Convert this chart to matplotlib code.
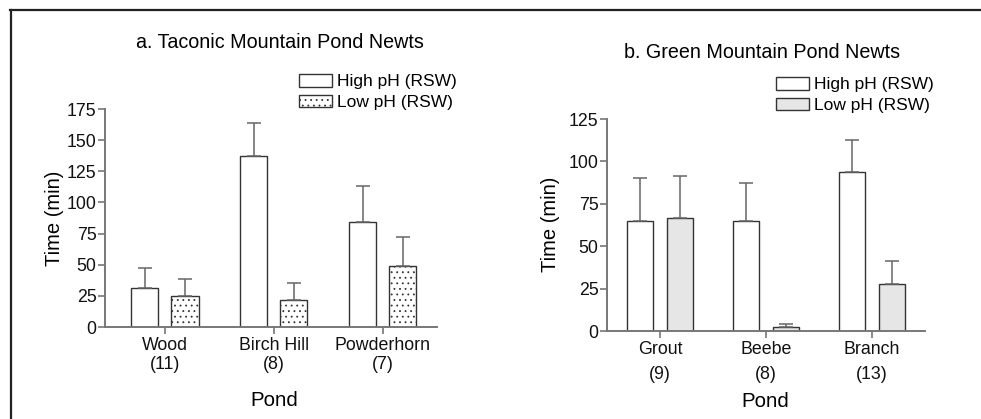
import numpy as np
import matplotlib
matplotlib.use('Agg')
from matplotlib import pyplot as plt
from matplotlib.lines import Line2D

plt.rcParams['font.family'] = ['Liberation Sans', 'DejaVu Sans']
plt.rcParams['hatch.linewidth'] = 0.6

# Data
ponds_a = ['Wood\n(11)', 'Birch Hill\n(8)', 'Powderhorn\n(7)']
high_a = [31, 137, 84]
high_a_se = [16, 27, 29]
low_a = [25, 22, 49]
low_a_se = [13.5, 13.5, 23.5]

ponds_b = ['Grout\n(9)', 'Beebe\n(8)', 'Branch\n(13)']
high_b = [65, 65, 94]
high_b_se = [25, 22.5, 18.5]
low_b = [66.5, 2.5, 28]
low_b_se = [25, 1.8, 13.5]

legend_labels = ['High pH (RSW)', 'Low pH (RSW)']

W, H = 981, 419
fig = plt.figure(figsize=(W / 100, H / 100), dpi=100)

# frame lines (top and left only)
fig.add_artist(Line2D([10 / W, 1], [1 - 10.5 / H, 1 - 10.5 / H], transform=fig.transFigure,
                      color='#222222', lw=1.6))
fig.add_artist(Line2D([10.5 / W, 10.5 / W], [0, 1 - 10.5 / H], transform=fig.transFigure,
                      color='#222222', lw=1.6))

axis_col = '#777777'
edge_col = '#333333'
err_col = '#666666'


def panel(rect, ponds, high, high_se, low, low_se, ymax, low_style, title, title_xy,
          leg_xy, ylab_xy, xlab_xy, linesp, width, off, xlim):
    ax = fig.add_axes(rect)
    x = np.arange(len(ponds))
    zeros = np.zeros(len(ponds))
    ekw = dict(ecolor=err_col, elinewidth=1.1, capsize=5, capthick=1.1)
    b1 = ax.bar(x - off, high, width, color='white', edgecolor=edge_col, lw=1.0,
                yerr=[zeros, high_se], error_kw=ekw, zorder=2)
    b2 = ax.bar(x + off, low, width, edgecolor=edge_col, lw=1.0,
                yerr=[zeros, low_se], error_kw=ekw, zorder=2, **low_style)
    ax.set_ylim(0, ymax)
    ax.set_xlim(*xlim)
    ax.set_yticks(np.arange(0, ymax + 1, 25))
    ax.set_xticks(x)
    ax.set_xticklabels(ponds, linespacing=linesp)
    for s in ['top', 'right']:
        ax.spines[s].set_visible(False)
    for s in ['left', 'bottom']:
        ax.spines[s].set_color(axis_col)
        ax.spines[s].set_linewidth(1.4)
    ax.tick_params(colors=axis_col, labelcolor='#111111', labelsize=12.8, width=1.2, length=5)
    ax.tick_params(axis='x', pad=2)
    ax.tick_params(axis='y', pad=1)
    ax.set_ylabel('Time (min)', fontsize=14.5)
    ax.yaxis.set_label_coords(ylab_xy[0] / W, 1 - ylab_xy[1] / H, transform=fig.transFigure)
    ax.set_xlabel('Pond', fontsize=14.7)
    ax.xaxis.set_label_coords(xlab_xy[0] / W, 1 - xlab_xy[1] / H, transform=fig.transFigure)
    fig.text(title_xy[0] / W, 1 - title_xy[1] / H, title, ha='center', va='center', fontsize=14.2)
    fig.legend([b1, b2], legend_labels, loc='upper left',
               bbox_to_anchor=(leg_xy[0] / W, 1 - leg_xy[1] / H), frameon=False,
               fontsize=12.5, handlelength=1.9, handleheight=0.75, handletextpad=0.3,
               labelspacing=0.3, borderpad=0, borderaxespad=0)
    return ax


panel([105 / W, 1 - 327 / H, (437 - 105) / W, (327 - 109) / H],
      ponds_a, high_a, high_a_se, low_a, low_a_se, 175,
      dict(color='white', hatch='...'),
      'a. Taconic Mountain Pond Newts', (280, 42), (299, 74), (64, 218), (274, 391),
      1.15, 0.25, 0.184, (-0.55, 2.5))

panel([607 / W, 1 - 331 / H, (925 - 607) / W, (331 - 119) / H],
      ponds_b, high_b, high_b_se, low_b, low_b_se, 125,
      dict(color='#e6e6e6'),
      'b. Green Mountain Pond Newts', (762, 52), (776, 77), (560, 224), (765, 392),
      1.65, 0.245, 0.19, (-0.5, 2.5))

plt.savefig('out.png', dpi=100)
